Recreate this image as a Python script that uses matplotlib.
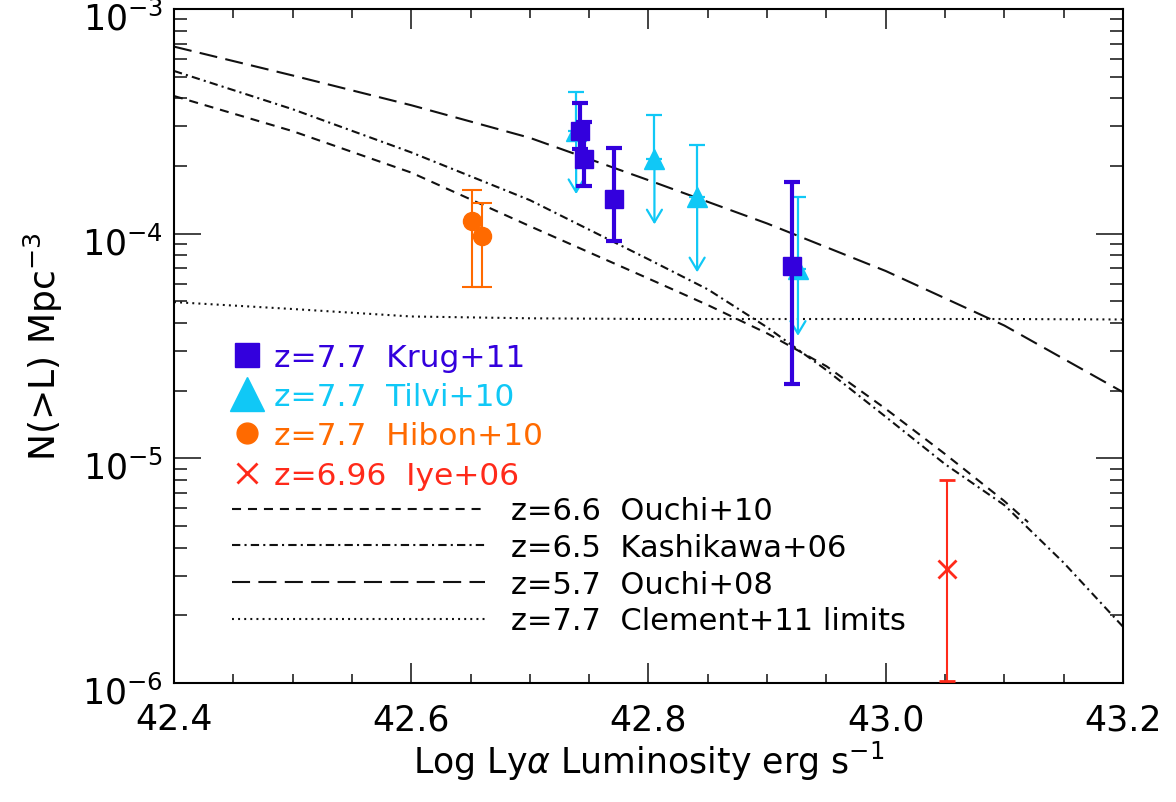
import matplotlib
matplotlib.use('Agg')
import matplotlib.pyplot as plt
import matplotlib.transforms as mtransforms
import numpy as np
from matplotlib.lines import Line2D
from matplotlib.ticker import MultipleLocator, LogLocator, NullFormatter, FormatStrFormatter

plt.rcParams['font.family'] = ['DejaVu Sans']
plt.rcParams['mathtext.fontset'] = 'dejavusans'
plt.rcParams['lines.scale_dashes'] = False

# ---------------- data ----------------
# model / literature curves
ouchi08_x = [42.40, 42.50, 42.60, 42.70, 42.80, 42.90, 43.00, 43.10, 43.20]
ouchi08_y = [6.8e-4, 5.06e-4, 3.73e-4, 2.67e-4, 1.73e-4, 1.11e-4, 6.82e-5, 3.9e-5, 1.97e-5]

kash_x = [42.40, 42.50, 42.60, 42.70, 42.80, 42.85, 42.90, 42.95, 43.00, 43.05, 43.10, 43.15, 43.20]
kash_y = [5.3e-4, 3.58e-4, 2.30e-4, 1.41e-4, 7.69e-5, 5.65e-5, 3.83e-5, 2.47e-5, 1.53e-5,
          9.42e-6, 6.19e-6, 3.43e-6, 1.78e-6]

ouchi10_x = [42.40, 42.50, 42.60, 42.70, 42.80, 42.85, 42.90, 42.95, 43.00, 43.05, 43.10, 43.12]
ouchi10_y = [4.10e-4, 2.86e-4, 1.87e-4, 1.08e-4, 6.31e-5, 4.81e-5, 3.6e-5, 2.57e-5, 1.66e-5,
             1.045e-5, 6.45e-6, 5.2e-6]

clement_x = [42.40, 42.50, 42.60, 42.70, 42.80, 42.90, 43.00, 43.10, 43.20]
clement_y = [4.96e-5, 4.62e-5, 4.28e-5, 4.2e-5, 4.17e-5, 4.17e-5, 4.17e-5, 4.17e-5, 4.15e-5]

# Krug+11
krug_x = [42.742, 42.746, 42.771, 42.921]
krug_y = [2.87e-4, 2.15e-4, 1.43e-4, 7.15e-5]
krug_hi = [3.82e-4, 3.13e-4, 2.40e-4, 1.69e-4]
krug_lo = [2.38e-4, 1.63e-4, 9.24e-5, 2.14e-5]

# Tilvi+10 (upper limits)
tilvi_x = [42.739, 42.805, 42.841, 42.926]
tilvi_y = [2.87e-4, 2.15e-4, 1.45e-4, 6.96e-5]
tilvi_hi = [4.28e-4, 3.38e-4, 2.49e-4, 1.45e-4]
tilvi_lim = [1.50e-4, 1.10e-4, 6.73e-5, 3.51e-5]

# Hibon+10
hibon_x = [42.651, 42.660]
hibon_y = [1.134e-4, 9.79e-5]
hibon_hi = [1.56e-4, 1.37e-4]
hibon_lo = [5.8e-5, 5.8e-5]

# Iye+06
iye_x = [43.052]
iye_y = [3.23e-6]
iye_hi = [8.0e-6]
iye_lo = [1.02e-6]

x_ticks = [42.4, 42.6, 42.8, 43.0, 43.2]

point_labels = ['z=7.7  Krug+11', 'z=7.7  Tilvi+10', 'z=7.7  Hibon+10', 'z=6.96  Iye+06']
line_labels = ['z=6.6  Ouchi+10', 'z=6.5  Kashikawa+06', 'z=5.7  Ouchi+08',
               'z=7.7  Clement+11 limits']

# ---------------- style ----------------
krug_c = '#3300DD'
tilvi_c = '#10C8F6'
hibon_c = '#FF6A00'
iye_c = '#FF2A1A'
line_c = '#111111'

ls_ouchi10 = (0, (6.5, 5.0))
ls_kash = (0, (6.0, 3.0, 1.5, 3.0))
ls_ouchi08 = (0, (13.0, 6.0))
ls_clement = (0, (1.4, 3.0))

fig = plt.figure(figsize=(11.76, 8.03), dpi=100)
ax = fig.add_axes([174 / 1176, (803 - 684) / 803, 949 / 1176, 674 / 803])

lw = 1.5
ax.plot(ouchi10_x, ouchi10_y, color=line_c, lw=lw, ls=ls_ouchi10, zorder=2)
ax.plot(kash_x, kash_y, color=line_c, lw=lw, ls=ls_kash, zorder=2)
ax.plot(ouchi08_x, ouchi08_y, color=line_c, lw=lw, ls=ls_ouchi08, zorder=2)
ax.plot(clement_x, clement_y, color=line_c, lw=lw, ls=ls_clement, zorder=2)

# Tilvi upper limits
ty = np.array(tilvi_y)
ax.errorbar(tilvi_x, tilvi_y, yerr=[np.zeros_like(ty), np.array(tilvi_hi) - ty],
            fmt='^', ms=15, color=tilvi_c, elinewidth=1.6, capsize=6, capthick=1.6, zorder=4)
for x, y, lim in zip(tilvi_x, tilvi_y, tilvi_lim):
    ax.annotate('', xy=(x, lim), xytext=(x, y),
                arrowprops=dict(arrowstyle='->,head_length=0.45,head_width=0.27',
                                mutation_scale=20, color=tilvi_c, lw=1.6,
                                shrinkA=0, shrinkB=0), zorder=3)

# Krug
ky = np.array(krug_y)
ax.errorbar(krug_x, krug_y, yerr=[ky - np.array(krug_lo), np.array(krug_hi) - ky],
            fmt='s', ms=12.5, color=krug_c, elinewidth=3, capsize=6, capthick=3, zorder=5)

# Hibon
hy = np.array(hibon_y)
ax.errorbar(hibon_x, hibon_y, yerr=[hy - np.array(hibon_lo), np.array(hibon_hi) - hy],
            fmt='o', ms=13, color=hibon_c, elinewidth=1.5, capsize=7, capthick=1.5, zorder=4)

# Iye
iy = np.array(iye_y)
ax.errorbar(iye_x, iye_y, yerr=[iy - np.array(iye_lo), np.array(iye_hi) - iy],
            fmt='x', ms=13, mew=2, color=iye_c, elinewidth=1.5, capsize=6, capthick=1.5, zorder=4)

# axes
ax.set_xlim(42.4, 43.2)
ax.set_yscale('log')
ax.set_ylim(1e-6, 1e-3)
ax.set_xticks(x_ticks)
ax.xaxis.set_major_formatter(FormatStrFormatter('%.1f'))
ax.xaxis.set_minor_locator(MultipleLocator(0.05))
ax.yaxis.set_major_locator(LogLocator(base=10))
ax.yaxis.set_minor_locator(LogLocator(base=10, subs=np.arange(2, 10)))
ax.yaxis.set_minor_formatter(NullFormatter())

for s in ax.spines.values():
    s.set_linewidth(1.5)
ax.tick_params(which='both', direction='in', top=True, right=True, width=1.2, color='#222222')
ax.tick_params(axis='x', which='major', length=14.4, pad=14, labelsize=25)
ax.tick_params(axis='x', which='minor', length=6.5)
ax.tick_params(axis='y', which='major', length=19.5, pad=8, labelsize=25)
ax.tick_params(axis='y', which='minor', length=9.5)

# shift y tick labels slightly downward (as in reference)
offset = mtransforms.ScaledTranslation(0, -6 / 100, fig.dpi_scale_trans)
for lab in ax.yaxis.get_majorticklabels():
    lab.set_transform(lab.get_transform() + offset)

ax.set_xlabel(r'Log Ly$\alpha$ Luminosity erg s$^{-1}$', fontsize=25, labelpad=2)
ax.set_ylabel(r'N(>L) Mpc$^{-3}$', fontsize=26, labelpad=12)

# legends
pt_handles = [
    Line2D([], [], ls='none', marker='s', ms=17, color=krug_c),
    Line2D([], [], ls='none', marker='^', ms=25, color=tilvi_c),
    Line2D([], [], ls='none', marker='o', ms=15, color=hibon_c),
    Line2D([], [], ls='none', marker='x', ms=15, mew=2, color=iye_c),
]
leg1 = ax.legend(pt_handles, point_labels, loc='upper left', bbox_to_anchor=(0.06, 0.505),
                 frameon=False, fontsize=22.5, handlelength=1.0, handletextpad=0.38,
                 labelspacing=0.33, borderpad=0, borderaxespad=0,
                 labelcolor=[krug_c, tilvi_c, hibon_c, iye_c])
ax.add_artist(leg1)

ln_handles = [
    Line2D([], [], color=line_c, lw=lw, ls=ls_ouchi10),
    Line2D([], [], color=line_c, lw=lw, ls=ls_kash),
    Line2D([], [], color=line_c, lw=lw, ls=ls_ouchi08),
    Line2D([], [], color=line_c, lw=lw, ls=ls_clement),
]
leg2 = ax.legend(ln_handles, line_labels, loc='upper left', bbox_to_anchor=(0.061, 0.277),
                 frameon=False, fontsize=22, handlelength=8.27, handletextpad=0.88,
                 labelspacing=0.25, borderpad=0, borderaxespad=0)

fig.savefig('out.png', dpi=100)
